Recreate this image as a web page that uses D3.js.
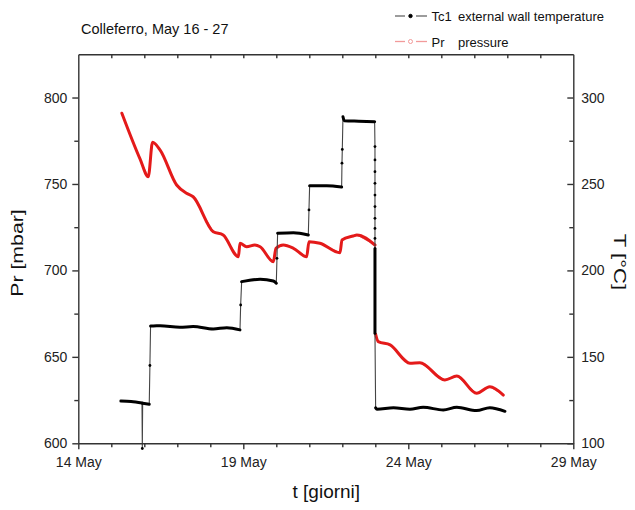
<!DOCTYPE html>
<html>
<head>
<meta charset="utf-8">
<script src="https://cdn.jsdelivr.net/npm/d3@7"></script>
<style>
  body { margin: 0; background: #fff; }
  svg { display: block; font-family: "Liberation Sans", Arial, sans-serif; }
  .axis path, .axis line { stroke: #333; stroke-width: 1.4; }
  .axis text { font-size: 14px; fill: #222; font-family: "Liberation Sans", Arial, sans-serif; }
</style>
</head>
<body>
<svg></svg>
<script>
//begin: data (day of May, fractional)
var tcDays = [15.29, 15.60, 15.93, 15.94, 15.95, 16.15, 16.17, 16.19, 16.27, 16.48, 17.08, 17.48, 18.09, 18.50, 18.90,
              18.92, 18.95, 19.51, 19.91, 20.00, 20.02, 20.04, 20.52, 20.97, 20.99, 21.01, 21.53, 21.98,
              21.99, 22.00, 22.02, 22.06, 22.50, 22.98];
var tcTemp = [124.5, 124.2, 123.3, 97, 123.2, 122.6, 145, 167.9, 167.9, 168.0, 167.1, 167.5, 166.1, 166.9, 165.6,
              180, 193.5, 194.9, 193.9, 192.6, 207, 221.5, 221.8, 220.5, 235, 248.9, 248.9, 248.2,
              262, 270, 288.9, 286.6, 286.3, 286.0];
// cooling drop after switch-off, sampled at nearly the same time
var tcDropDay = 22.99;
var tcDropTemp = [271.6, 263.9, 257.1, 250.4, 243.6, 236.9, 230.1, 224.3, 218.5, 212.7, 207.9, 203.1,
                  198.3, 194.4, 190.6, 186.7, 182.8, 180.0, 177.1, 174.2, 171.3, 168.4, 165.5, 163.6];
var tcTailDays = [23.01, 23.05, 23.55, 24.05, 24.45, 25.06, 25.47, 26.07, 26.47, 26.93];
var tcTailTemp = [120.5, 119.7, 120.6, 119.7, 120.8, 119.3, 120.8, 118.9, 120.6, 118.5];

var prDays = [15.32, 15.87, 16.12, 16.25, 16.48, 16.98, 17.28, 17.48, 18.09, 18.39, 18.85, 18.90, 19.10, 19.35,
              19.51, 19.91, 19.99, 20.21, 20.52, 20.92, 20.99, 21.32, 21.93, 21.99, 22.33, 22.44, 22.99,
              23.00, 23.00, 23.00, 23.01, 23.09, 23.45, 24.05, 24.35, 25.11, 25.47, 26.07, 26.47, 26.88];
var prPress = [790.9, 764.5, 754.2, 774.1, 769.6, 749.4, 744.6, 742.6, 722.4, 720.5, 707.9, 715.7, 713.7, 714.7,
               713.7, 705.0, 712.8, 714.7, 712.8, 707.9, 716.6, 715.7, 710.2, 717.6, 719.9, 720.5, 714.7,
               700, 685, 670, 663, 658.8, 656.9, 646.3, 646.6, 636.6, 638.9, 628.9, 632.7, 627.9];

var xTicks = [14, 19, 24, 29];
var prTicks = [600, 650, 700, 750, 800];
var tTicks = [100, 150, 200, 250, 300];
//end: data

//begin: layout conf.
var svgWidth = 635, svgHeight = 510,
    plotLeft = 78.3, plotRight = 573.3, plotTop = 54.3, plotBottom = 443.3;
//end: layout conf.

function may(d) { return new Date(Date.UTC(2008, 4, 1) + (d - 1) * 864e5); }

var x = d3.scaleUtc().domain([may(14), may(29)]).range([plotLeft, plotRight]);
var yL = d3.scaleLinear().domain([600, 825]).range([plotBottom, plotTop]);
var yR = d3.scaleLinear().domain([100, 325]).range([plotBottom, plotTop]);

var svg = d3.select("svg").attr("width", svgWidth).attr("height", svgHeight);

// build point lists
var tcPts = [];
tcDays.forEach(function(d, i) { tcPts.push({day: d, v: tcTemp[i]}); });
tcDropTemp.forEach(function(v) { tcPts.push({day: tcDropDay, v: v}); });
tcTailDays.forEach(function(d, i) { tcPts.push({day: d, v: tcTailTemp[i]}); });
var prPts = prDays.map(function(d, i) { return {day: d, v: prPress[i]}; });

// split into smooth runs at near-vertical jumps; lone points inside jumps become dots
function splitRuns(pts) {
  var runs = [[pts[0]]];
  for (var i = 1; i < pts.length; i++) {
    var a = pts[i-1], b = pts[i];
    if (b.day - a.day < 0.04 && Math.abs(b.v - a.v) > 5) runs.push([b]);
    else runs[runs.length-1].push(b);
  }
  return runs;
}

function drawSeries(pts, yScale, color, thinColor, thinWidth, withDots) {
  var g = svg.append("g");
  var thin = d3.line().x(function(d){ return x(may(d.day)); }).y(function(d){ return yScale(d.v); });
  var thick = d3.line().curve(d3.curveMonotoneX)
      .x(function(d){ return x(may(d.day)); }).y(function(d){ return yScale(d.v); });
  var runs = splitRuns(pts);

  g.append("path").attr("d", thin(pts))
      .attr("fill", "none").attr("stroke", thinColor).attr("stroke-width", thinWidth);
  g.selectAll(".run").data(runs.filter(function(r){ return r.length > 1; }))
    .enter().append("path")
      .attr("d", thick)
      .attr("fill", "none").attr("stroke", color).attr("stroke-width", 3)
      .attr("stroke-linejoin", "round").attr("stroke-linecap", "round");
  if (!withDots) return;
  g.selectAll(".dot").data(runs.filter(function(r){ return r.length == 1; }).map(function(r){ return r[0]; }))
    .enter().append("circle")
      .attr("cx", function(d){ return x(may(d.day)); })
      .attr("cy", function(d){ return yScale(d.v); })
      .attr("r", 1.4).attr("fill", color);
}

drawSeries(prPts, yL, "#e41a1a", "#f07070", 0.9, false);
drawSeries(tcPts, yR, "#000", "#444", 1.1, true);

//begin: axes
var majorX = xTicks.map(may);
var minorX = d3.range(15, 29).filter(function(d){ return xTicks.indexOf(d) < 0; }).map(may);

svg.append("g").attr("class", "axis").attr("transform", "translate(0," + plotBottom + ")")
  .call(d3.axisBottom(x).tickValues(majorX).tickSize(6).tickSizeOuter(0).tickPadding(8)
        .tickFormat(d3.utcFormat("%-d %b")));
svg.append("g").attr("class", "axis").attr("transform", "translate(0," + plotBottom + ")")
  .call(d3.axisBottom(x).tickValues(minorX).tickSize(4).tickSizeOuter(0).tickFormat(""))
  .select(".domain").remove();

svg.append("g").attr("class", "axis").attr("transform", "translate(0," + plotTop + ")")
  .call(d3.axisTop(x).tickValues(d3.range(15, 29).map(may)).tickSize(-4).tickSizeOuter(0).tickFormat(""));

svg.append("g").attr("class", "axis").attr("transform", "translate(" + plotLeft + ",0)")
  .call(d3.axisLeft(yL).tickValues(prTicks).tickSize(6).tickSizeOuter(0).tickPadding(5));
svg.append("g").attr("class", "axis").attr("transform", "translate(" + plotLeft + ",0)")
  .call(d3.axisLeft(yL).tickValues([625, 675, 725, 775]).tickSize(4).tickFormat(""))
  .select(".domain").remove();

svg.append("g").attr("class", "axis").attr("transform", "translate(" + plotRight + ",0)")
  .call(d3.axisRight(yR).tickValues(tTicks).tickSize(-6).tickSizeOuter(0).tickPadding(8));
svg.append("g").attr("class", "axis").attr("transform", "translate(" + plotRight + ",0)")
  .call(d3.axisRight(yR).tickValues([125, 175, 225, 275]).tickSize(-4).tickFormat(""))
  .select(".domain").remove();
//end: axes

//begin: labels
svg.append("text")
    .attr("x", 81).attr("y", 34)
    .style("font-size", "14.5px").attr("fill", "#111")
    .text("Colleferro, May 16 - 27");

svg.append("text")
    .attr("text-anchor", "middle")
    .attr("transform", "translate(" + [(plotLeft + plotRight) / 2 + 0.5, 498] + ")")
    .style("font-size", "19px").attr("fill", "#111")
    .text("t [giorni]");

svg.append("text")
    .attr("text-anchor", "middle").attr("dy", "0.35em")
    .attr("transform", "translate(17.5,253) rotate(-90) scale(1.25,1)")
    .style("font-size", "17px").attr("fill", "#111")
    .text("Pr [mbar]");

svg.append("text")
    .attr("text-anchor", "middle").attr("dy", "0.35em")
    .attr("transform", "translate(620,262) rotate(90) scale(1.3,1)")
    .style("font-size", "17px").attr("fill", "#111")
    .text("T [°C]");
//end: labels

//begin: legend
var legendItems = [
  {name: "Tc1", desc: "external wall temperature", line: "#666", mark: "#000", hollow: false, y: 16},
  {name: "Pr", desc: "pressure", line: "#f29a9a", mark: "#f29a9a", hollow: true, y: 41.5}
];
var legend = svg.append("g").selectAll("g").data(legendItems).enter().append("g")
    .attr("transform", function(d){ return "translate(0," + d.y + ")"; });
legend.append("line").attr("x1", 395).attr("x2", 405).attr("stroke", function(d){ return d.line; }).attr("stroke-width", 1.3);
legend.append("line").attr("x1", 416).attr("x2", 427).attr("stroke", function(d){ return d.line; }).attr("stroke-width", 1.3);
legend.append("circle").attr("cx", 410.5).attr("r", function(d){ return d.hollow ? 2 : 1.7; })
    .attr("fill", function(d){ return d.hollow ? "#fff" : d.mark; })
    .attr("stroke", function(d){ return d.mark; }).attr("stroke-width", 1);
legend.append("text").attr("x", 431.5).attr("y", 5).style("font-size", "13px").attr("fill", "#111")
    .text(function(d){ return d.name; });
legend.append("text").attr("x", 458).attr("y", 5).style("font-size", "13px").attr("fill", "#111")
    .text(function(d){ return d.desc; });
//end: legend
</script>
</body>
</html>
